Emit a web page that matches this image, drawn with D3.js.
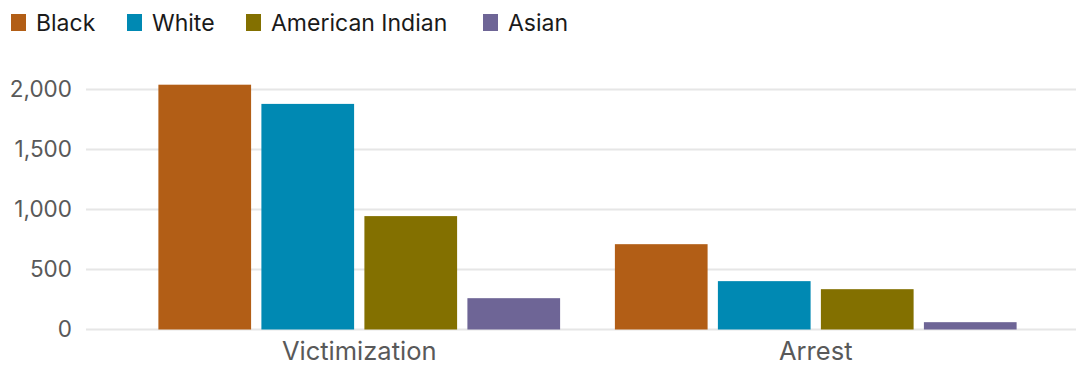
<!DOCTYPE html>
<html>
<head>
<meta charset="utf-8">
<script src="https://cdn.jsdelivr.net/npm/d3@7"></script>
<style>
  html, body { margin: 0; padding: 0; background: #ffffff; }
  svg { display: block; font-family: "Inter", "Roboto", sans-serif; }
</style>
</head>
<body>
<svg id="chart" width="1076" height="366"></svg>
<script>
// Categories and series
const categories = ["Victimization", "Arrest"];
const seriesNames = ["Black", "White", "American Indian", "Asian"];
const seriesColors = ["#b25e16", "#0089b3", "#837000", "#6e6596"];
const black = [2040, 711];
const white = [1880, 403];
const americanIndian = [945, 336];
const asian = [261, 61];
const yTicks = [0, 500, 1000, 1500, 2000];

const values = [black, white, americanIndian, asian];

const svg = d3.select("#chart");
const gridLeft = 86, gridRight = 1076;
const plotTop = 89.5, plotBottom = 329.5;

const x = d3.scaleBand().domain(categories).range([131, 1044]).paddingInner(0.12).paddingOuter(0.06);
const xs = d3.scaleBand().domain(seriesNames).range([0, x.bandwidth()]).paddingInner(0.1);
const y = d3.scaleLinear().domain([0, 2000]).range([plotBottom, plotTop]);

// Horizontal gridlines
svg.append("g")
  .selectAll("line")
  .data(yTicks)
  .join("line")
  .attr("x1", gridLeft).attr("x2", gridRight)
  .attr("y1", d => y(d)).attr("y2", d => y(d))
  .attr("stroke", "#e6e6e6").attr("stroke-width", 2);

// Y axis labels
const yAxis = d3.axisLeft(y).tickValues(yTicks).tickFormat(d3.format(",")).tickSize(0).tickPadding(0);
const gy = svg.append("g").attr("transform", `translate(72,0)`).call(yAxis);
gy.select(".domain").remove();
gy.selectAll("text").attr("font-size", 22.5).attr("fill", "#595959").attr("font-family", "Inter, Roboto, sans-serif");

// Bars
const groups = svg.append("g")
  .selectAll("g")
  .data(categories)
  .join("g")
  .attr("transform", d => `translate(${x(d)},0)`);

groups.selectAll("rect")
  .data((c, i) => seriesNames.map((s, j) => ({ s, j, v: values[j][i] })))
  .join("rect")
  .attr("x", d => xs(d.s))
  .attr("width", xs.bandwidth())
  .attr("y", d => y(d.v))
  .attr("height", d => y(0) - y(d.v))
  .attr("fill", d => seriesColors[d.j]);

// X axis labels
const xAxis = d3.axisBottom(x).tickSize(0).tickPadding(0);
const gx = svg.append("g").attr("transform", `translate(0,359.5)`).call(xAxis);
gx.select(".domain").remove();
gx.selectAll("text").attr("font-size", 25.5).attr("fill", "#595959").attr("font-family", "Inter, Roboto, sans-serif").attr("dy", null).attr("y", 0);

// Legend
const legendX = [11, 127, 246, 483];
const legend = svg.append("g")
  .selectAll("g")
  .data(seriesNames)
  .join("g")
  .attr("transform", (d, i) => `translate(${legendX[i]},0)`);
legend.append("rect").attr("y", 14).attr("width", 15).attr("height", 17).attr("fill", (d, i) => seriesColors[i]);
legend.append("text")
  .attr("x", 25).attr("y", 31)
  .attr("font-size", 23).attr("fill", "#1a1a1a")
  .text(d => d);
</script>
</body>
</html>
